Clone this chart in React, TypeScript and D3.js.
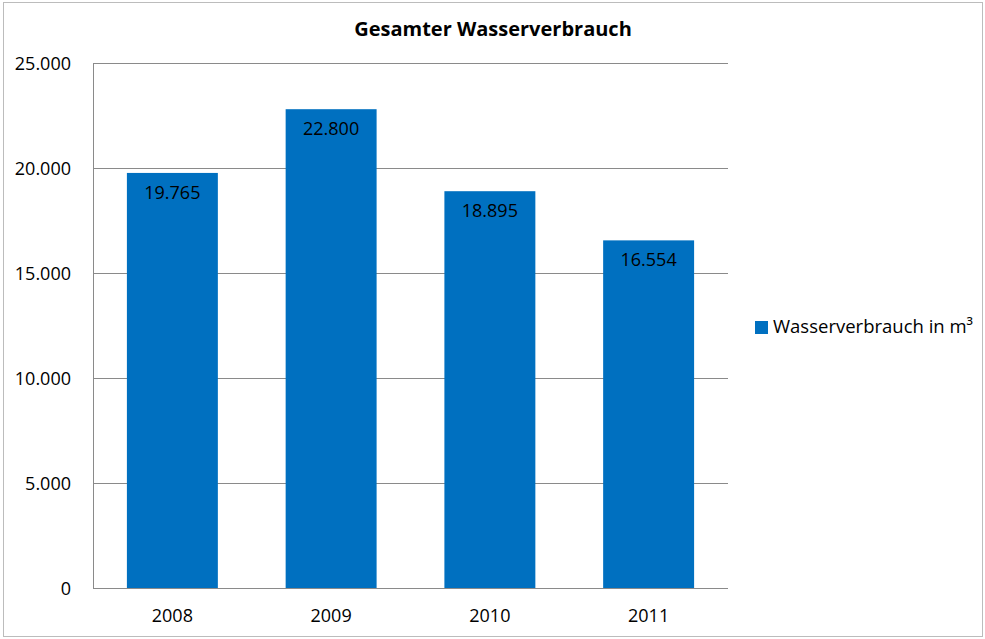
import React, { useEffect, useRef } from 'react';
import * as d3 from 'd3';

const years = ['2008', '2009', '2010', '2011'];
const values = [19765, 22800, 18895, 16554];
const yTicks = [0, 5000, 10000, 15000, 20000, 25000];
const title = 'Gesamter Wasserverbrauch';
const seriesName = 'Wasserverbrauch in m³';

const W = 985;
const H = 639;
const FONT = '"Open Sans", sans-serif';

const fmt = (v: number) => d3.format(',')(v).replace(/,/g, '.');

const App = () => {
  const ref = useRef<SVGSVGElement>(null);

  useEffect(() => {
    const svg = d3.select(ref.current);
    svg.selectAll('*').remove();

    const plot = { left: 93, right: 728, top: 63, bottom: 588 };

    const x = d3.scaleBand<string>()
      .domain(years)
      .range([plot.left, plot.right])
      .paddingInner(0.427)
      .paddingOuter(0.2135);
    const y = d3.scaleLinear().domain([0, 25000]).range([plot.bottom, plot.top]);

    // outer border
    svg.append('rect')
      .attr('x', 3.5).attr('y', 2.5)
      .attr('width', 979).attr('height', 634)
      .attr('fill', '#fff')
      .attr('stroke', '#bcbcbc')
      .attr('stroke-width', 1);

    svg.append('text')
      .attr('x', 493).attr('y', 36)
      .attr('text-anchor', 'middle')
      .style('font-family', FONT)
      .style('font-size', '20px')
      .style('font-weight', 'bold')
      .attr('fill', '#000')
      .text(title);

    // gridlines
    svg.append('g')
      .selectAll('line')
      .data(yTicks)
      .enter()
      .append('line')
      .attr('x1', plot.left).attr('x2', plot.right)
      .attr('y1', d => Math.round(y(d)) + 0.5)
      .attr('y2', d => Math.round(y(d)) + 0.5)
      .attr('stroke', '#8a8a8a')
      .attr('stroke-width', 1);

    // y axis line
    svg.append('line')
      .attr('x1', plot.left + 0.5).attr('x2', plot.left + 0.5)
      .attr('y1', plot.top).attr('y2', plot.bottom + 0.5)
      .attr('stroke', '#8a8a8a');

    svg.append('g')
      .selectAll('text')
      .data(yTicks)
      .enter()
      .append('text')
      .attr('x', 71)
      .attr('y', d => y(d) + 6.5)
      .attr('text-anchor', 'end')
      .style('font-family', FONT)
      .style('font-size', '18px')
      .attr('fill', '#000')
      .text(d => fmt(d));

    svg.append('g')
      .selectAll('rect')
      .data(values)
      .enter()
      .append('rect')
      .attr('x', (d, i) => x(years[i]) as number)
      .attr('y', d => y(d))
      .attr('width', x.bandwidth())
      .attr('height', d => plot.bottom - y(d))
      .attr('fill', '#0070c0');

    svg.append('g')
      .selectAll('text')
      .data(values)
      .enter()
      .append('text')
      .attr('x', (d, i) => (x(years[i]) as number) + x.bandwidth() / 2)
      .attr('y', d => y(d) + 26)
      .attr('text-anchor', 'middle')
      .style('font-family', FONT)
      .style('font-size', '18px')
      .attr('fill', '#000')
      .text(d => fmt(d));

    svg.append('g')
      .selectAll('text')
      .data(years)
      .enter()
      .append('text')
      .attr('x', d => (x(d) as number) + x.bandwidth() / 2)
      .attr('y', 622)
      .attr('text-anchor', 'middle')
      .style('font-family', FONT)
      .style('font-size', '18px')
      .attr('fill', '#000')
      .text(d => d);

    // legend
    svg.append('rect')
      .attr('x', 755).attr('y', 321)
      .attr('width', 13).attr('height', 13)
      .attr('fill', '#0070c0');
    svg.append('text')
      .attr('x', 773).attr('y', 333)
      .style('font-family', FONT)
      .style('font-size', '18.5px')
      .attr('fill', '#000')
      .text(seriesName);
  }, []);

  return (
    <div style={{ position: 'absolute', left: 0, top: 0 }}>
      <svg ref={ref} width={W} height={H} style={{ display: 'block' }}></svg>
    </div>
  );
};

export default App;
